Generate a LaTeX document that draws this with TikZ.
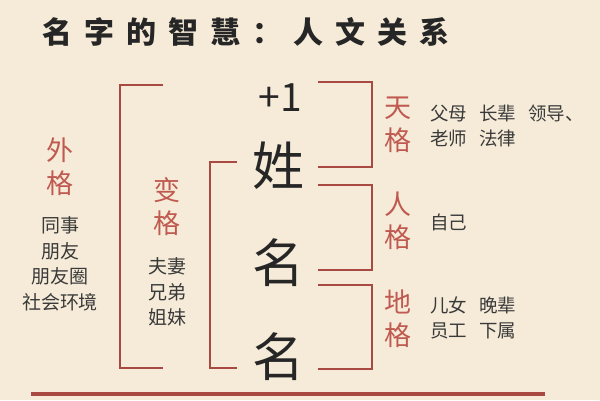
\documentclass[tikz,border=0pt]{standalone}
\usepackage{fontspec}
\setmainfont{Noto Sans CJK SC}
\newfontfamily\cjk{Noto Sans CJK SC}
\definecolor{bg}{HTML}{F5EBD8}
\definecolor{lred}{HTML}{A94A42}
\definecolor{tred}{HTML}{C05A50}
\definecolor{tdark}{HTML}{3A3A3A}
\begin{document}
\begin{tikzpicture}[x=1pt,y=-1pt,
  brk/.style={draw=lred,line width=2pt},
  redlab/.style={text=tred,font=\cjk\fontsize{27}{33}\selectfont,align=center,inner sep=0pt},
  smalllist/.style={text=tdark,font=\cjk\fontsize{19}{25.5}\selectfont,align=center,inner sep=0pt},
  rightlist/.style={text=tdark,font=\cjk\fontsize{18.5}{25}\selectfont,align=left,inner sep=0pt,anchor=west},
  bigchar/.style={text=black!85,font=\cjk\fontsize{52}{52}\selectfont,inner sep=0pt}]
\useasboundingbox[fill=bg] (0,0) rectangle (600,400);
% title
\node[text=black!85,font=\cjk\bfseries\fontsize{30}{30}\selectfont,inner sep=0pt] (title) at (246,32)
 {名\hspace{12pt}字\hspace{12pt}的\hspace{12pt}智\hspace{12pt}慧\hspace{12pt}：\hspace{12pt}人\hspace{12pt}文\hspace{12pt}关\hspace{12pt}系};
% big characters
\node[text=black!85,font=\cjk\fontsize{39}{39}\selectfont,inner sep=0pt] (plus) at (280,98) {+1};
\node[bigchar] (xing) at (278,166) {姓};
\node[bigchar] (ming1) at (278,263) {名};
\node[bigchar] (ming2) at (278,357) {名};
% outer bracket
\coordinate (o1) at (163,85); \coordinate (o2) at (120,85);
\coordinate (o3) at (120,368); \coordinate (o4) at (163,368);
\draw[brk] (o1) -- (o2) -- (o3) -- (o4);
% inner bracket
\coordinate (i1) at (237,162); \coordinate (i2) at (210,162);
\coordinate (i3) at (210,368); \coordinate (i4) at (237,368);
\draw[brk] (i1) -- (i2) -- (i3) -- (i4);
% right brackets
\coordinate (a1) at (318,82); \coordinate (a2) at (372,82);
\coordinate (a3) at (372,167); \coordinate (a4) at (318,167);
\draw[brk] (a1) -- (a2) -- (a3) -- (a4);
\coordinate (b1) at (318,185); \coordinate (b2) at (372,185);
\coordinate (b3) at (372,270); \coordinate (b4) at (318,270);
\draw[brk] (b1) -- (b2) -- (b3) -- (b4);
\coordinate (c1) at (318,285); \coordinate (c2) at (372,285);
\coordinate (c3) at (372,369); \coordinate (c4) at (318,369);
\draw[brk] (c1) -- (c2) -- (c3) -- (c4);
% bottom line
\coordinate (l1) at (31,394); \coordinate (l2) at (545,394);
\draw[draw=lred,line width=3.5pt] (l1) -- (l2);
% left labels
\node[redlab] (waige) at (60,167) {外\\格};
\node[smalllist] (wailist) at (60,264) {同事\\朋友\\朋友圈\\社会环境};
\node[redlab] (bian) at (167,207) {变\\格};
\node[smalllist] (bianlist) at (167,292) {夫妻\\兄弟\\姐妹};
% right labels
\node[redlab] (tian) at (398,125) {天\\格};
\node[redlab] (ren) at (398,221) {人\\格};
\node[redlab] (di) at (398,319) {地\\格};
\node[rightlist] (tianlist) at (430,126) {父母\hspace{12pt}长辈\hspace{12pt}领导、\\老师\hspace{12pt}法律};
\node[rightlist] (renlist) at (430,222) {自己};
\node[rightlist] (dilist) at (430,318) {儿女\hspace{12pt}晚辈\\员工\hspace{12pt}下属};
\end{tikzpicture}
\end{document}
